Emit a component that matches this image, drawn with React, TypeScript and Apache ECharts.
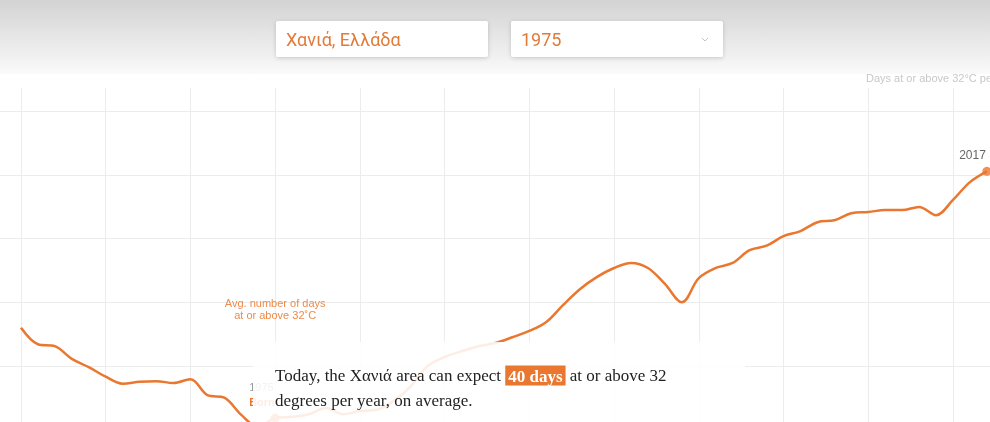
import React, { useEffect, useRef } from "react";
import * as echarts from "echarts";

const years = [
  1960, 1961, 1962, 1963, 1964, 1965, 1966, 1967, 1968, 1969,
  1970, 1971, 1972, 1973, 1974, 1975, 1976, 1977, 1978, 1979,
  1980, 1981, 1982, 1983, 1984, 1985, 1986, 1987, 1988, 1989,
  1990, 1991, 1992, 1993, 1994, 1995, 1996, 1997, 1998, 1999,
  2000, 2001, 2002, 2003, 2004, 2005, 2006, 2007, 2008, 2009,
  2010, 2011, 2012, 2013, 2014, 2015, 2016, 2017,
];
const days = [
  16.0, 13.4, 13.1, 11.1, 9.8, 8.3, 7.2, 7.5, 7.6, 7.3,
  7.9, 5.4, 5.0, 2.3, 0.4, 1.8, 2.0, 2.4, 3.4, 2.4,
  2.9, 3.1, 4.5, 6.8, 10.0, 11.4, 12.3, 13.1, 13.6, 14.5,
  15.5, 16.9, 19.6, 22.1, 24.0, 25.4, 26.2, 25.4, 22.9, 20.0,
  23.8, 25.4, 26.2, 28.2, 28.9, 30.4, 31.2, 32.6, 32.9, 34.0,
  34.2, 34.5, 34.5, 35.0, 33.7, 36.1, 38.9, 40.6,
];
const xGridYears = [1960, 1965, 1970, 1975, 1980, 1985, 1990, 1995, 2000, 2005, 2010, 2015];
const yGridValues = [10, 20, 30, 40, 50];
const placeName = "Χανιά, Ελλάδα";
const placeShort = "Χανιά";
const birthYear = 1975;
const lastYear = 2017;
const todayDays = 40;
const threshold = 32;

const ORANGE = "#ea772f";
const GRID = "#ececec";

export default function App() {
  const ref = useRef<HTMLDivElement>(null);
  useEffect(() => {
    document.body.style.margin = "0";
    const chart = echarts.init(ref.current!, null, { renderer: "svg" });
    const data = years.map((y, i) => [y, days[i]]);
    const bIdx = years.indexOf(birthYear);
    const lIdx = years.indexOf(lastYear);
    chart.setOption({
      animation: false,
      grid: { left: 0, right: 0, top: 88, bottom: 0 },
      xAxis: {
        type: "value",
        min: 1958.761,
        max: 2017.185,
        axisLine: { show: false },
        axisTick: { show: false },
        axisLabel: { show: false },
        splitLine: { show: false },
      },
      yAxis: {
        type: "value",
        min: 1.18,
        max: 53.7,
        axisLine: { show: false },
        axisTick: { show: false },
        axisLabel: { show: false },
        splitLine: { show: false },
      },
      series: [
        {
          type: "line",
          data,
          smooth: 0.35,
          clip: false,
          symbol: "none",
          lineStyle: { color: ORANGE, width: 2.5 },
          z: 2,
          markLine: {
            silent: true,
            symbol: "none",
            label: { show: false },
            lineStyle: { color: GRID, width: 1, type: "solid" },
            emphasis: { disabled: true },
            z: 1,
            data: [
              ...xGridYears.map((v) => ({ xAxis: v })),
              ...yGridValues.map((v) => ({ yAxis: v })),
            ],
          },
        },
        {
          type: "scatter",
          data: [data[bIdx], data[lIdx]],
          clip: false,
          symbolSize: 9,
          itemStyle: { color: ORANGE },
          z: 3,
        },
      ],
    });
    const pB = chart.convertToPixel({ gridIndex: 0 }, data[bIdx]) as number[];
    const pL = chart.convertToPixel({ gridIndex: 0 }, data[lIdx]) as number[];
    const sans = '"Liberation Sans", Arial, sans-serif';
    const serif = '"Liberation Serif", "DejaVu Serif", serif';
    chart.setOption({
      graphic: [
        {
          type: "rect",
          z: 50,
          shape: { x: 0, y: 0, width: 990, height: 74 },
          style: {
            fill: new echarts.graphic.LinearGradient(0, 0, 0, 1, [
              { offset: 0, color: "#d3d3d3" },
              { offset: 1, color: "#fafafa" },
            ]),
          },
        },
        {
          type: "rect",
          z: 51,
          shape: { x: 276, y: 21, width: 212, height: 36, r: 2 },
          style: { fill: "#fff", shadowBlur: 4, shadowColor: "rgba(0,0,0,0.18)", shadowOffsetY: 1 },
        },
        {
          type: "text",
          z: 52,
          style: {
            text: placeName,
            x: 286,
            y: 39,
            verticalAlign: "middle",
            font: '18px Roboto, "Liberation Sans", sans-serif',
            fill: "#e07b39",
          },
        },
        {
          type: "rect",
          z: 51,
          shape: { x: 511, y: 21, width: 212, height: 36, r: 2 },
          style: { fill: "#fff", shadowBlur: 4, shadowColor: "rgba(0,0,0,0.18)", shadowOffsetY: 1 },
        },
        {
          type: "text",
          z: 52,
          style: {
            text: String(birthYear),
            x: 521,
            y: 39,
            verticalAlign: "middle",
            font: '18px Roboto, "Liberation Sans", sans-serif',
            fill: "#e07b39",
          },
        },
        {
          type: "polyline",
          z: 52,
          shape: { points: [[702, 38], [705, 41], [708, 38]] },
          style: { stroke: "#c4c4c4", lineWidth: 1, fill: null },
        },
        {
          type: "text",
          z: 52,
          style: {
            text: `Days at or above ${threshold}°C per year`,
            x: 866,
            y: 78,
            verticalAlign: "middle",
            font: "11px " + sans,
            fill: "#c8c8c8",
          },
        },
        {
          type: "text",
          z: 20,
          style: {
            text: `Avg. number of days\nat or above ${threshold}˚C`,
            x: pB[0],
            y: 297,
            align: "center",
            verticalAlign: "top",
            lineHeight: 12,
            font: "11px " + sans,
            fill: "#ee8a4a",
          },
        },
        {
          type: "text",
          z: 20,
          style: {
            text: String(birthYear),
            x: pB[0] - 26,
            y: 387,
            verticalAlign: "middle",
            font: "11px " + sans,
            fill: "#999",
          },
        },
        {
          type: "text",
          z: 20,
          style: {
            text: "Born",
            x: pB[0] - 26,
            y: 402,
            verticalAlign: "middle",
            font: "bold 11px " + sans,
            fill: ORANGE,
          },
        },
        {
          type: "text",
          z: 20,
          style: {
            text: String(lastYear),
            x: pL[0] - 1,
            y: pL[1] - 16,
            align: "right",
            verticalAlign: "middle",
            font: "12px " + sans,
            fill: "#666",
          },
        },
        {
          type: "rect",
          z: 100,
          shape: { x: 253, y: 342, width: 492, height: 90 },
          style: { fill: "rgba(255,255,255,0.87)" },
        },
        {
          type: "text",
          z: 101,
          style: {
            text: `Today, the ${placeShort} area can expect {h|${todayDays} days} at or above ${threshold}\ndegrees per year, on average.`,
            x: 275,
            y: 363,
            verticalAlign: "top",
            lineHeight: 25,
            font: "17px " + serif,
            fill: "#222",
            rich: {
              h: {
                backgroundColor: ORANGE,
                fill: "#fff",
                color: "#fff",
                fontWeight: "bold",
                fontSize: 17,
                fontFamily: serif,
                padding: [2, 3, 1, 3],
                lineHeight: 25,
              },
            },
          },
        },
      ],
    });
    return () => chart.dispose();
  }, []);
  return <div ref={ref} style={{ position: "fixed", left: 0, top: 0, width: 990, height: 422 }} />;
}
